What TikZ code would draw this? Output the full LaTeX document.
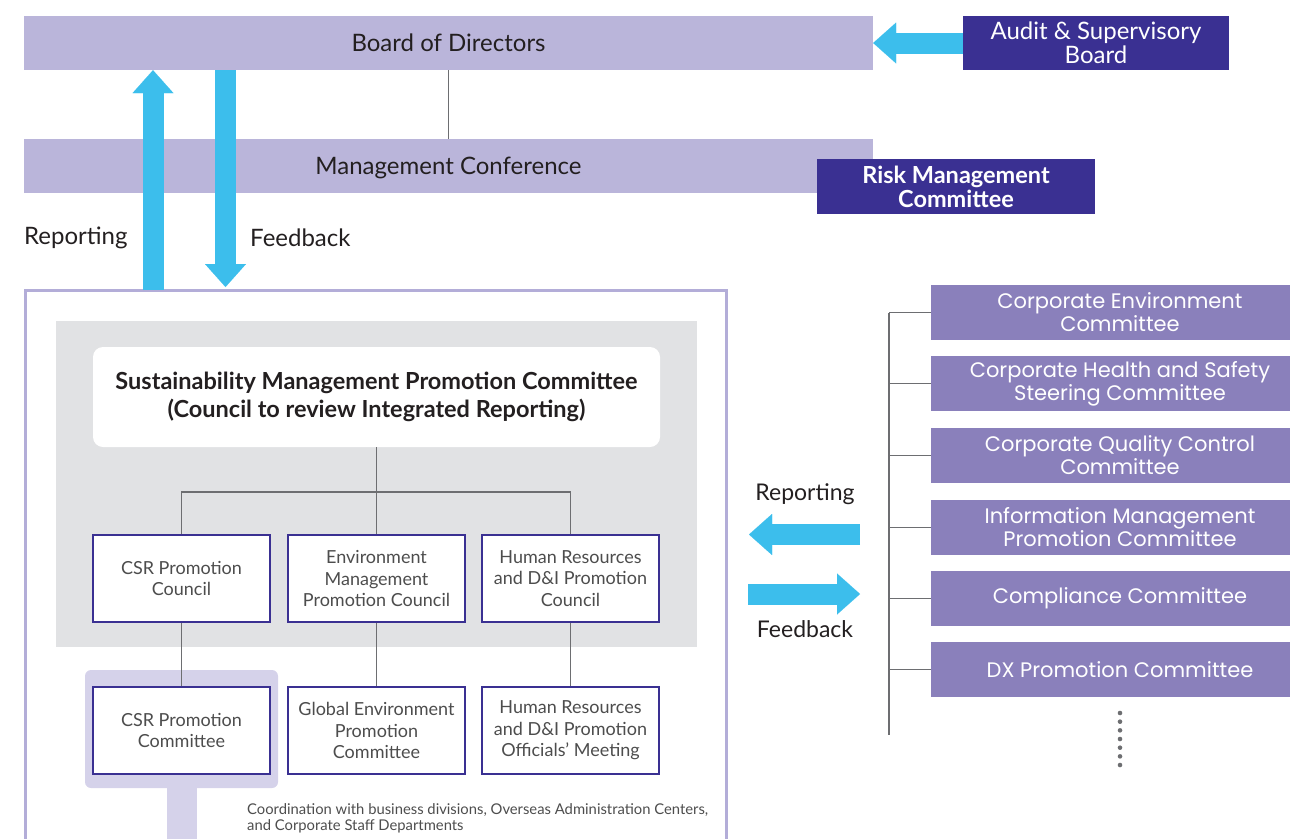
\documentclass[tikz,border=0pt]{standalone}
\usepackage{fontspec}
\setmainfont{Lato}
\newfontfamily\widefont{Poppins}
\usetikzlibrary{arrows.meta}
\definecolor{lav}{HTML}{BAB5DA}
\definecolor{navyc}{HTML}{3A3092}
\definecolor{sky}{HTML}{3CBEEC}
\definecolor{rpur}{HTML}{8A80BB}
\definecolor{graybg}{HTML}{E1E2E4}
\definecolor{hilite}{HTML}{D5D2EA}
\definecolor{frame}{HTML}{B3ADD8}
\definecolor{lgray}{HTML}{6D6E71}
\definecolor{txt}{HTML}{231F20}
\definecolor{gtxt}{HTML}{4D4D4D}
\begin{document}
\begin{tikzpicture}[x=1pt,y=-1pt,
  bar/.style={fill=lav, minimum width=849pt, minimum height=54pt, inner sep=0pt, text depth=0pt, text=txt, font=\fontsize{24}{28}\selectfont},
  navybox/.style={fill=navyc, text=white, inner sep=0pt, align=center, font=\fontsize{24}{24}\selectfont},
  council/.style={draw=navyc, line width=1.3pt, fill=white, minimum width=177pt, minimum height=87pt, inner sep=0pt, align=center, text=gtxt, font=\fontsize{18}{21.5}\selectfont},
  rbox/.style={fill=rpur, minimum width=378pt, minimum height=55pt, inner sep=0pt, align=center, text=white, font=\widefont\fontsize{21}{23}\selectfont},
  link/.style={draw=lgray, line width=1.5pt},
  fat/.style={draw=sky, line width=21pt, -{Triangle[length=23pt,width=41pt,line width=0.01pt]}},
  lbl/.style={text=txt, font=\fontsize{24}{28}\selectfont, inner sep=0pt}
]
\useasboundingbox (0,0) rectangle (1290,838);

% top bars
\node[bar] (board) at (448.5,43) {Board of Directors};
\node[bar] (mc) at (448.5,166) {Management Conference};
\draw[link] (board.south) -- (mc.north);
\node[navybox, minimum width=266pt, minimum height=54pt] (audit) at (1096,43) {Audit \& Supervisory\\Board};
\node[navybox, minimum width=278pt, minimum height=55pt, font=\bfseries\fontsize{23.5}{24}\selectfont] (risk) at (956,186.5) {Risk Management\\Committee};
\draw[fat] (audit.west) -- (board.east);

% outer frame
\draw[frame, line width=3pt] (25.5,290) rectangle (726,860);
\coordinate (outertop) at (25.5,290);

% vertical arrows
\coordinate (repx) at (153,0);
\coordinate (fbx) at (225.5,0);
\coordinate (fbend) at (225.5,287);
\draw[fat] (outertop -| repx) -- (board.south -| repx);
\draw[fat] (board.south -| fbx) -- (fbend);
\node[lbl, anchor=west] (rep1) at (24,238) {Reporting};
\node[lbl, anchor=west] (fb1) at (250,238) {Feedback};

% gray area
\fill[graybg] (56,321) rectangle (697,647);
\node[fill=white, rounded corners=10pt, minimum width=567pt, minimum height=100pt, inner sep=0pt, align=center, text=txt, font=\bfseries\fontsize{23.5}{28}\selectfont] (smpc) at (376.5,397) {Sustainability Management Promotion Committee\\(Council to review Integrated Reporting)};

% highlight
\fill[hilite, rounded corners=6pt] (85,670) rectangle (278,788);
\fill[hilite] (167,780) rectangle (197,860);

\node[council] (c1) at (181.5,578.5) {CSR Promotion\\Council};
\node[council] (c2) at (376.5,578.5) {Environment\\Management\\Promotion Council};
\node[council] (c3) at (570.5,578.5) {Human Resources\\and D\&I Promotion\\Council};
\node[council] (m1) at (181.5,730.5) {CSR Promotion\\Committee};
\node[council] (m2) at (376.5,730.5) {Global Environment\\Promotion\\Committee};
\node[council] (m3) at (570.5,730.5) {Human Resources\\and D\&I Promotion\\Officials' Meeting};

\coordinate (bus) at (376.5,492);
\draw[link] (smpc.south) -- (bus);
\draw[link] (c1.north) |- (bus) -| (c3.north);
\draw[link] (bus) -- (c2.north);
\draw[link] (c1.south) -- (m1.north);
\draw[link] (c2.south) -- (m2.north);
\draw[link] (c3.south) -- (m3.north);

\node[anchor=north west, inner sep=0pt, align=left, text=gtxt, font=\fontsize{14.8}{16.5}\selectfont] (coord) at (247,803) {Coordination with business divisions, Overseas Administration Centers,\\and Corporate Staff Departments};

% right side
\node[rbox] (r1) at (1120,312.5) {Corporate Environment\\Committee};
\node[rbox] (r2) at (1120,383.5) {Corporate Health and Safety\\Steering Committee};
\node[rbox] (r3) at (1120,455.5) {Corporate Quality Control\\Committee};
\node[rbox] (r4) at (1120,527.5) {Information Management\\Promotion Committee};
\node[rbox] (r5) at (1120,598.5) {Compliance Committee};
\node[rbox] (r6) at (1120,669.5) {DX Promotion Committee};
\coordinate (spine) at (889,0);
\coordinate (spinebot) at (889,735);
\draw[link] (spine |- r1.west) -- (spinebot);
\foreach \r in {r1,r2,r3,r4,r5,r6} \draw[link] (spine |- \r.west) -- (\r.west);
\foreach \k in {0,...,6} \fill[lgray] (1120,713+8.67*\k) circle (2.3pt);

\coordinate (ra) at (860,534.5);
\coordinate (rb) at (749,534.5);
\coordinate (fa) at (748,594);
\coordinate (fb) at (860,594);
\draw[fat] (ra) -- (rb);
\draw[fat] (fa) -- (fb);
\node[lbl, font=\fontsize{23}{26}\selectfont] (rep2) at (805,494) {Reporting};
\node[lbl, font=\fontsize{23}{26}\selectfont] (fb2) at (805,629) {Feedback};
\end{tikzpicture}
\end{document}
